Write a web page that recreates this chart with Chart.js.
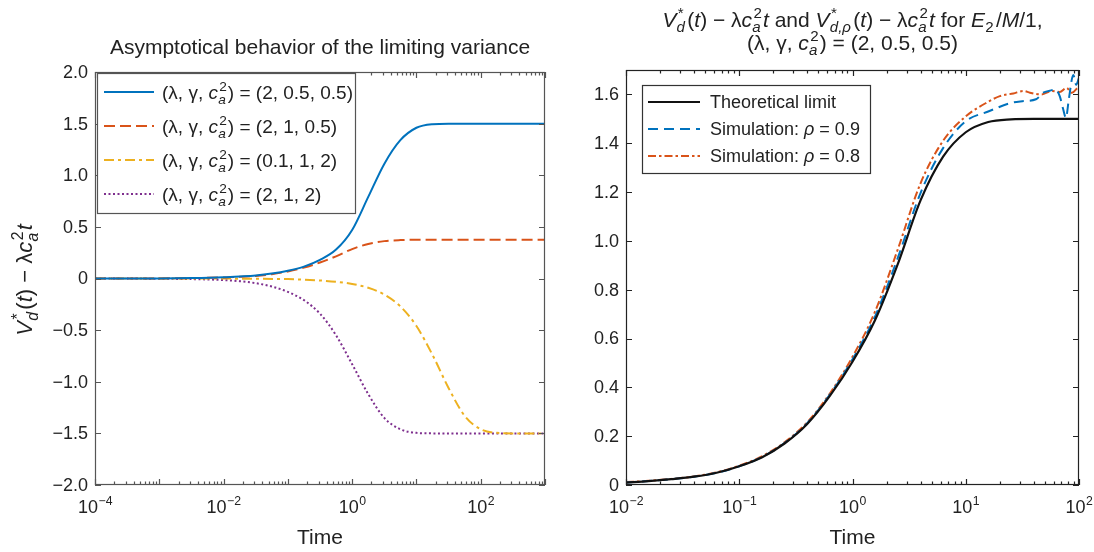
<!DOCTYPE html>
<html><head><meta charset="utf-8">
<script src="https://cdn.jsdelivr.net/npm/chart.js@4.4.1/dist/chart.umd.min.js"></script>
<style>
html,body{margin:0;padding:0;background:#fff;width:1094px;height:552px;overflow:hidden}
canvas{position:absolute;top:0}
#cL{left:0;width:560px;height:552px}
#cR{left:560px;width:534px;height:552px}
</style></head><body>
<canvas id="cL" width="560" height="552"></canvas>
<canvas id="cR" width="534" height="552"></canvas>
<script>
// ---------------- DATA ----------------
// Left panel: (lambda, gamma, ca^2) cases
const leftBlueT   = [1e-4, 0.001, 0.00316, 0.01, 0.0178, 0.0316, 0.0562, 0.1, 0.178, 0.316, 0.562, 1, 1.78, 3.16, 5.62, 10, 17.8, 31.6, 1000];
const leftBlueV   = [0, 0.001, 0.004, 0.012, 0.02, 0.03, 0.048, 0.075, 0.115, 0.18, 0.28, 0.47, 0.79, 1.11, 1.34, 1.46, 1.495, 1.5, 1.5];
const leftRedT    = [1e-4, 0.001, 0.00316, 0.01, 0.0178, 0.0316, 0.0562, 0.1, 0.178, 0.316, 0.562, 1, 1.78, 3.16, 5.62, 10, 1000];
const leftRedV    = [0, 0.001, 0.004, 0.01, 0.016, 0.025, 0.042, 0.068, 0.105, 0.155, 0.215, 0.285, 0.335, 0.362, 0.372, 0.375, 0.375];
const leftYellowT = [1e-4, 0.01, 0.1, 0.178, 0.316, 0.562, 1, 1.78, 3.16, 5.62, 10, 17.8, 31.6, 56.2, 100, 178, 316, 1000];
const leftYellowV = [0, -0.001, -0.006, -0.011, -0.019, -0.032, -0.053, -0.09, -0.155, -0.27, -0.46, -0.74, -1.06, -1.33, -1.46, -1.495, -1.5, -1.5];
const leftPurpleT = [1e-4, 0.001, 0.00316, 0.01, 0.0178, 0.0316, 0.0562, 0.1, 0.178, 0.316, 0.562, 1, 1.78, 3.16, 5.62, 10, 17.8, 1000];
const leftPurpleV = [0, -0.002, -0.006, -0.015, -0.026, -0.045, -0.078, -0.13, -0.21, -0.34, -0.55, -0.83, -1.12, -1.35, -1.46, -1.495, -1.5, -1.5];

// Right panel: theoretical limit and simulations
const rightTheoryT = [0.01, 0.0158, 0.0251, 0.0398, 0.0631, 0.1, 0.158, 0.251, 0.398, 0.631, 1, 1.58, 2.51, 3.98, 6.31, 10, 15.8, 25.1, 39.8, 100];
const rightTheoryV = [0.01, 0.016, 0.024, 0.034, 0.05, 0.077, 0.113, 0.17, 0.25, 0.365, 0.505, 0.675, 0.905, 1.165, 1.345, 1.445, 1.487, 1.498, 1.5, 1.5];
const rightSim09T  = [0.01, 0.0158, 0.0251, 0.0398, 0.0631, 0.1, 0.158, 0.251, 0.398, 0.631, 1, 1.58, 2.51, 3.98, 6.31, 10, 15.8, 25.1, 31.6, 41.7, 48.4, 55, 61.7, 67.6, 72.4, 76.7, 81.3, 89.1, 94.4, 100];
const rightSim09V  = [0.01, 0.016, 0.024, 0.034, 0.05, 0.077, 0.114, 0.172, 0.253, 0.37, 0.515, 0.69, 0.93, 1.195, 1.38, 1.49, 1.53, 1.565, 1.572, 1.58, 1.607, 1.615, 1.62, 1.593, 1.54, 1.504, 1.58, 1.68, 1.64, 1.668];
const rightSim08T  = [0.01, 0.0158, 0.0251, 0.0398, 0.0631, 0.1, 0.158, 0.251, 0.398, 0.631, 1, 1.58, 2.51, 3.98, 6.31, 10, 15.8, 20, 26.3, 32.4, 36.9, 46.8, 57.5, 67.6, 77.6, 86.1, 100];
const rightSim08V  = [0.012, 0.017, 0.025, 0.035, 0.052, 0.079, 0.117, 0.175, 0.257, 0.375, 0.525, 0.71, 0.965, 1.235, 1.41, 1.51, 1.57, 1.593, 1.604, 1.614, 1.607, 1.60, 1.614, 1.61, 1.627, 1.607, 1.634];

// Tick labels
const leftXTickExps  = [-4, -2, 0, 2];
const leftYTicks     = [2, 1.5, 1, 0.5, 0, -0.5, -1, -1.5, -2];
const leftYTickLabels= ['2.0', '1.5', '1.0', '0.5', '0', '\u22120.5', '\u22121.0', '\u22121.5', '\u22122.0'];
const rightXTickExps = [-2, -1, 0, 1, 2];
const rightYTicks    = [0, 0.2, 0.4, 0.6, 0.8, 1.0, 1.2, 1.4, 1.6];
const rightYTickLabels = ['0', '0.2', '0.4', '0.6', '0.8', '1.0', '1.2', '1.4', '1.6'];

// ---------------- helpers ----------------
const FONT = '"Liberation Sans", Arial, Helvetica, sans-serif';
const SS = 0.72;
function fnt(size, it){ return (it ? 'italic ' : '') + size + 'px ' + FONT; }
function pts(t, v){ return t.map((x, i) => ({x: x, y: v[i]})); }
function segW(ctx, s, size){
  ctx.font = fnt(size, s.it);
  let w = s.t ? ctx.measureText(s.t).width : 0;
  let ws = 0;
  if (s.sup){ ctx.font = fnt(size*SS, s.supIt); ws = Math.max(ws, ctx.measureText(s.sup).width); }
  if (s.sub){ ctx.font = fnt(size*SS, s.subIt); ws = Math.max(ws, ctx.measureText(s.sub).width); }
  return w + ws + (ws ? size*0.12 : 0);
}
function richW(ctx, segs, size){ return segs.reduce((a, s) => a + segW(ctx, s, size), 0); }
function drawRich(ctx, segs, x, y, size, align, color){
  const W = richW(ctx, segs, size);
  let cx = align === 'center' ? x - W/2 : (align === 'right' ? x - W : x);
  ctx.fillStyle = color; ctx.textBaseline = 'alphabetic'; ctx.textAlign = 'left';
  for (const s of segs){
    ctx.font = fnt(size, s.it);
    const w = s.t ? ctx.measureText(s.t).width : 0;
    if (s.t) ctx.fillText(s.t, cx, y);
    cx += w;
    let ws = 0;
    const off = s.it ? size*0.07 : size*0.03;
    if (s.sup){ ctx.font = fnt(size*SS, s.supIt); ctx.fillText(s.sup, cx + off, y - size*0.42); ws = Math.max(ws, ctx.measureText(s.sup).width); }
    if (s.sub){ ctx.font = fnt(size*SS, s.subIt); ctx.fillText(s.sub, cx + (s.it ? size*0.01 : off), y + size*0.26); ws = Math.max(ws, ctx.measureText(s.sub).width); }
    cx += ws + (ws ? size*0.12 : 0);
  }
}
const cSq = {t:'c', it:true, sup:'2', sub:'a', subIt:true};
const Vd  = {t:'V', it:true, sup:'*', sub:'d', subIt:true};
const Vdr = {t:'V', it:true, sup:'*', sub:'d,\u03C1', subIt:true};
const ti  = {t:'t', it:true};
function paramSegs(rest){ return [{t:'(\u03BB, \u03B3, '}, cSq, {t:') = ' + rest}]; }

function decor(spec){
  return { id:'decor', afterDraw(chart){
    const ctx = chart.ctx, a = chart.chartArea, xs = chart.scales.x, ys = chart.scales.y;
    ctx.save();
    const L = Math.round(a.left), R = Math.round(a.right), T = Math.round(a.top), B = Math.round(a.bottom);
    ctx.strokeStyle = spec.axisColor; ctx.lineWidth = 1.2;
    ctx.strokeRect(L + 0.5, T + 0.5, R - L - 1, B - T - 1);
    ctx.beginPath();
    for (let e = spec.xMinExp; e <= spec.xMaxExp; e++){
      for (let k = 1; k <= 9; k++){
        const v = k * Math.pow(10, e);
        if (v > Math.pow(10, spec.xMaxExp) + 1e-12) break;
        const px = Math.round(xs.getPixelForValue(v)) + 0.5;
        const len = k === 1 ? 6 : 3.5;
        ctx.moveTo(px, B); ctx.lineTo(px, B - len);
        ctx.moveTo(px, T); ctx.lineTo(px, T + len);
      }
    }
    for (const v of spec.yTicks){
      const py = Math.round(ys.getPixelForValue(v)) + 0.5;
      ctx.moveTo(L, py); ctx.lineTo(L + 6, py);
      ctx.moveTo(R, py); ctx.lineTo(R - 6, py);
    }
    ctx.stroke();
    ctx.fillStyle = '#222'; ctx.font = fnt(spec.tickSize); ctx.textAlign = 'right'; ctx.textBaseline = 'middle';
    spec.yTicks.forEach((v, i) => ctx.fillText(spec.yTickLabels[i], L - 7, ys.getPixelForValue(v) + 1));
    for (const e of spec.xTickExps){
      const px = xs.getPixelForValue(Math.pow(10, e));
      const expStr = e < 0 ? '\u2212' + (-e) : String(e);
      ctx.font = fnt(spec.tickSize); const w1 = ctx.measureText('10').width;
      ctx.font = fnt(spec.tickSize*0.68); const w2 = ctx.measureText(expStr).width;
      const x0 = px - (w1 + w2)/2;
      ctx.textAlign = 'left'; ctx.textBaseline = 'alphabetic';
      ctx.font = fnt(spec.tickSize); ctx.fillText('10', x0, 513);
      ctx.font = fnt(spec.tickSize*0.68); ctx.fillText(expStr, x0 + w1 + 0.5, 505);
    }
    ctx.font = fnt(21); ctx.textAlign = 'center'; ctx.fillStyle = '#222';
    ctx.fillText('Time', (L + R)/2, 544);
    spec.titles.forEach(tl => drawRich(ctx, tl.segs, (L + R)/2, tl.y, spec.titleSize, 'center', '#222'));
    if (spec.yLabel){
      ctx.save(); ctx.translate(spec.yLabel.x, spec.yLabel.y); ctx.rotate(-Math.PI/2);
      drawRich(ctx, spec.yLabel.segs, 0, 0, 22, 'center', '#222');
      ctx.restore();
    }
    const lg = spec.legend;
    ctx.fillStyle = '#fff'; ctx.fillRect(lg.x, lg.y, lg.w, lg.h);
    ctx.strokeStyle = lg.border; ctx.lineWidth = 1.2; ctx.setLineDash([]);
    ctx.strokeRect(lg.x + 0.5, lg.y + 0.5, lg.w, lg.h);
    chart.data.datasets.forEach((ds, i) => {
      const cy = lg.rows[i];
      ctx.save();
      ctx.strokeStyle = ds.borderColor; ctx.lineWidth = ds.borderWidth; ctx.setLineDash(ds.borderDash || []);
      ctx.beginPath(); ctx.moveTo(lg.lx0, cy); ctx.lineTo(lg.lx1, cy); ctx.stroke();
      ctx.restore();
      drawRich(ctx, lg.labels[i], lg.tx, cy + lg.size*0.35, lg.size, 'left', '#222');
    });
    ctx.restore();
  }};
}

function lineDs(t, v, color, dash, w){
  return {data: pts(t, v), borderColor: color, borderWidth: w || 2, borderDash: dash, pointRadius: 0,
          fill: false, cubicInterpolationMode: 'monotone'};
}
function baseOptions(pad, xmin, xmax, ymin, ymax){
  return {
    responsive: false, animation: false, devicePixelRatio: 1,
    layout: {padding: pad},
    scales: {
      x: {type: 'logarithmic', min: xmin, max: xmax, display: false},
      y: {type: 'linear', min: ymin, max: ymax, display: false}
    },
    plugins: {legend: {display: false}, tooltip: {enabled: false}}
  };
}

// ---------------- Left chart ----------------
new Chart(document.getElementById('cL'), {
  type: 'line',
  data: {datasets: [
    lineDs(leftBlueT, leftBlueV, '#0072BD', []),
    lineDs(leftRedT, leftRedV, '#D95319', [11, 5]),
    lineDs(leftYellowT, leftYellowV, '#EDB120', [10, 4, 3, 4]),
    lineDs(leftPurpleT, leftPurpleV, '#7E2F8E', [2, 2.5])
  ]},
  options: baseOptions({left: 95, right: 15, top: 72, bottom: 67}, 1e-4, 1e3, -2, 2),
  plugins: [decor({
    axisColor: '#555', xMinExp: -4, xMaxExp: 3, yTicks: leftYTicks, yTickLabels: leftYTickLabels,
    xTickExps: leftXTickExps, tickSize: 18, titleSize: 21,
    titles: [{y: 54, segs: [{t: 'Asymptotical behavior of the limiting variance'}]}],
    yLabel: {x: 32, y: 280, segs: [Vd, {t:'('}, ti, {t:') \u2212 \u03BB'}, cSq, ti]},
    legend: {x: 97, y: 73, w: 258, h: 140, border: '#555', rows: [92, 126, 160, 194],
      lx0: 104, lx1: 154, tx: 162, size: 19,
      labels: [paramSegs('(2, 0.5, 0.5)'), paramSegs('(2, 1, 0.5)'), paramSegs('(0.1, 1, 2)'), paramSegs('(2, 1, 2)')]}
  })]
});

// ---------------- Right chart ----------------
new Chart(document.getElementById('cR'), {
  type: 'line',
  data: {datasets: [
    lineDs(rightTheoryT, rightTheoryV, '#111111', [], 2.2),
    lineDs(rightSim09T, rightSim09V, '#0072BD', [10, 6]),
    lineDs(rightSim08T, rightSim08V, '#D95319', [8, 3, 2.5, 3])
  ]},
  options: baseOptions({left: 66, right: 15, top: 70, bottom: 67}, 0.01, 100, 0, 1.7),
  plugins: [decor({
    axisColor: '#222', xMinExp: -2, xMaxExp: 2, yTicks: rightYTicks, yTickLabels: rightYTickLabels,
    xTickExps: rightXTickExps, tickSize: 18, titleSize: 21,
    titles: [
      {y: 27, segs: [Vd, {t:'('}, ti, {t:') \u2212 \u03BB'}, cSq, ti, {t:' and '}, Vdr, {t:'('}, ti, {t:') \u2212 \u03BB'}, cSq, ti,
                     {t:' for '}, {t:'E', it:true, sub:'2'}, {t:'/'}, {t:'M', it:true}, {t:'/1,'}]},
      {y: 50, segs: paramSegs('(2, 0.5, 0.5)')}
    ],
    yLabel: null,
    legend: {x: 82, y: 85, w: 228, h: 88, border: '#333', rows: [102, 129, 156],
      lx0: 88, lx1: 140, tx: 150, size: 18,
      labels: [[{t:'Theoretical limit'}], [{t:'Simulation: '}, {t:'\u03C1', it:true}, {t:' = 0.9'}], [{t:'Simulation: '}, {t:'\u03C1', it:true}, {t:' = 0.8'}]]}
  })]
});
</script>
</body></html>
